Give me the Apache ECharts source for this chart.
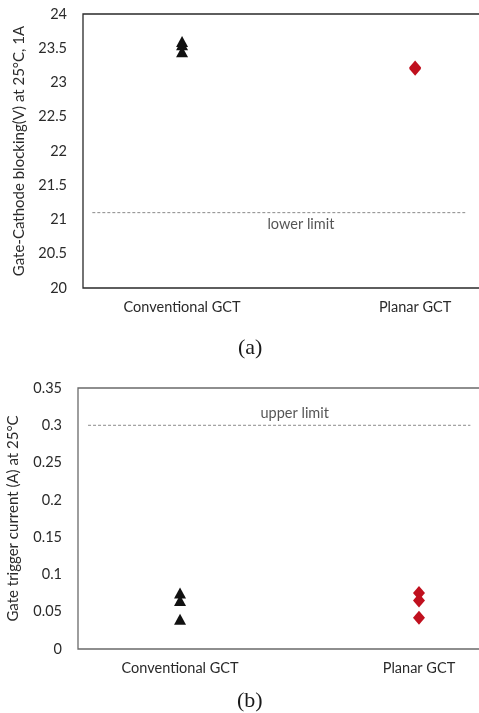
<!DOCTYPE html>
<html><head><meta charset="utf-8">
<script src="https://cdn.jsdelivr.net/npm/echarts@6/dist/echarts.min.js"></script>
<style>html,body{margin:0;padding:0;background:#fff}#c{width:479px;height:713px}</style>
</head><body><div id="c"></div>
<script>
var categories = ['Conventional GCT', 'Planar GCT'];
var blockingConventional = [23.6, 23.55, 23.45];
var blockingPlanar = [23.2, 23.22];
var triggerConventional = [0.075, 0.065, 0.04];
var triggerPlanar = [0.075, 0.065, 0.042];
var lowerLimit = 21.1;
var upperLimit = 0.3;
var limitSpan = [0.615, 2.215];
var yTicksA = [20, 24, 0.5];
var yTicksB = [0, 0.35, 0.05];

function pts(idx, arr) { return arr.map(function (v) { return [idx + 1, v]; }); }
function limitLine(v) { return limitSpan.map(function (x) { return [x, v]; }); }

var font = 'Lato';
var txt = '#2a2a2a';
function xAxis(gi, mn, mx) {
  return {
    type: 'value', gridIndex: gi, min: mn, max: mx,
    axisLine: { show: false }, axisTick: { show: false }, splitLine: { show: false },
    axisLabel: { customValues: [1, 2], margin: 12, fontFamily: font, fontSize: 14.5, color: txt,
      formatter: function (v) { return categories[Math.round(v) - 1]; } }
  };
}
function yAxis(gi, t, name, gap) {
  return {
    type: 'value', gridIndex: gi, min: t[0], max: t[1], interval: t[2],
    axisLine: { show: false }, axisTick: { show: false }, splitLine: { show: false },
    axisLabel: { margin: 16, fontFamily: font, fontSize: 14.5, color: txt },
    name: name, nameLocation: 'middle', nameGap: gap, nameRotate: 90,
    nameTextStyle: { fontFamily: font, fontSize: 15, color: txt }
  };
}
var tri = { symbol: 'triangle', symbolSize: [12, 11], itemStyle: { color: '#111', opacity: 1 } };
var dia = { symbol: 'diamond', symbolSize: [12, 14], itemStyle: { color: '#C0101E', opacity: 1 } };
function sc(gi, base, data) {
  return Object.assign({ type: 'scatter', xAxisIndex: gi, yAxisIndex: gi, data: data, z: 5 }, base);
}
function dash(gi, v) {
  return { type: 'line', xAxisIndex: gi, yAxisIndex: gi, data: limitLine(v), symbol: 'none',
    lineStyle: { type: [3, 2], color: '#8a8a8a', width: 1 }, silent: true };
}
function note(gi, x, v, text, pos) {
  return { type: 'scatter', xAxisIndex: gi, yAxisIndex: gi, data: [[x, v]], symbolSize: 0, silent: true,
    label: { show: true, position: pos, distance: 4, formatter: text, fontFamily: font, fontSize: 14.5, color: txt } };
}

var chart = echarts.init(document.getElementById('c'), null, { renderer: 'canvas' });
chart.setOption({
  animation: false,
  backgroundColor: '#fff',
  grid: [
    { left: 83, top: 14, height: 274, width: 406, outerBoundsMode: 'none', containLabel: false,
      show: true, borderColor: '#2a2a2a', borderWidth: 1.3 },
    { left: 78, top: 388, height: 261, width: 411, outerBoundsMode: 'none', containLabel: false,
      show: true, borderColor: '#6a6a6a', borderWidth: 1.3 }
  ],
  xAxis: [xAxis(0, 0.575, 2.317), xAxis(1, 0.573, 2.293)],
  yAxis: [
    yAxis(0, yTicksA, 'Gate-Cathode blocking(V) at 25°C, 1A', 56),
    yAxis(1, yTicksB, 'Gate trigger current (A) at 25°C', 57)
  ],
  graphic: [
    { type: 'text', x: 238, y: 337, style: { text: '(a)', font: '22px "Liberation Serif"', fill: '#1a1a1a' } },
    { type: 'text', x: 237, y: 690, style: { text: '(b)', font: '22px "Liberation Serif"', fill: '#1a1a1a' } }
  ],
  series: [
    dash(0, lowerLimit), dash(1, upperLimit),
    note(0, 1.51, lowerLimit, 'lower limit', 'bottom'),
    note(1, 1.48, upperLimit, 'upper limit', 'top'),
    sc(0, tri, pts(0, blockingConventional)), sc(0, dia, pts(1, blockingPlanar)),
    sc(1, tri, pts(0, triggerConventional)), sc(1, dia, pts(1, triggerPlanar))
  ]
});
</script></body></html>
